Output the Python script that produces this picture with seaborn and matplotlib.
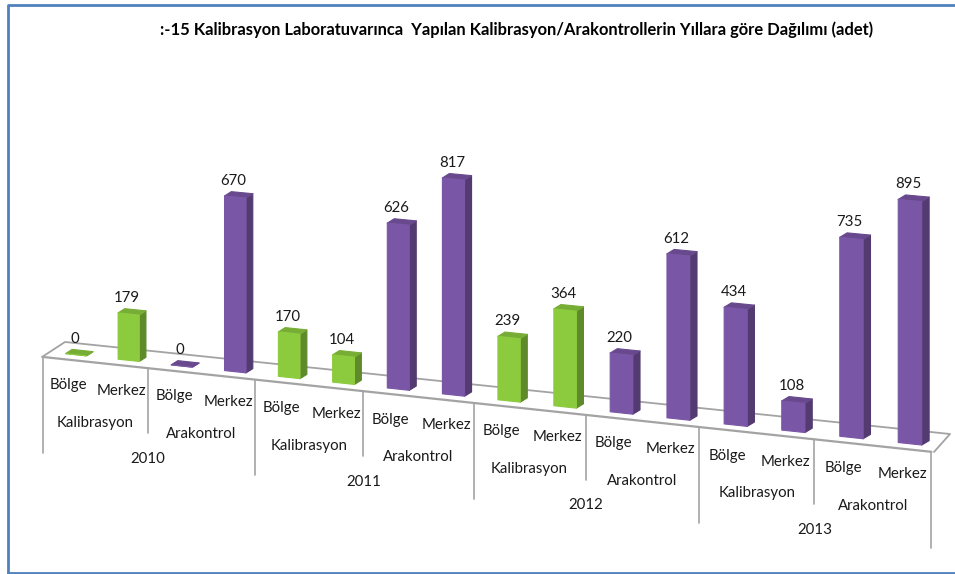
import numpy as np
import pandas as pd
import matplotlib
matplotlib.use("Agg")
import matplotlib.pyplot as plt
import seaborn as sns
from matplotlib.patches import Polygon
from matplotlib.transforms import Transform, Affine2D

# ── Data ──────────────────────────────────────────────────────────────────────
years = ["2010", "2011", "2012", "2013"]
kinds = ["Kalibrasyon", "Arakontrol"]
places = ["Bölge", "Merkez"]
values = [0, 179, 0, 670, 170, 104, 626, 817, 239, 364, 220, 612, 434, 108, 735, 895]
series = ["yesil", "yesil", "mor", "mor", "yesil", "yesil", "mor", "mor",
          "yesil", "yesil", "mor", "mor", "mor", "mor", "mor", "mor"]
title = ":-15 Kalibrasyon Laboratuvarınca  Yapılan Kalibrasyon/Arakontrollerin Yıllara göre Dağılımı (adet)"

rows = []
for y in years:
    for k in kinds:
        for p in places:
            rows.append((y, k, p))
df = pd.DataFrame(rows, columns=["yil", "tur", "yer"])
df["adet"] = values
df["seri"] = series
df["etiket"] = df["yil"] + " " + df["tur"] + " " + df["yer"]

GREEN = "#8ccb3e"
PURPLE = "#7a56a6"
GRAY = "#a3a3a3"
TEXT = "#1a1a1a"
W, H = 955, 574

sns.set_theme(style="white")
plt.rcParams["font.family"] = ["Lato", "DejaVu Sans"]


# ── Fake 3D floor: sheared, slightly stretched towards the viewer ─────────────
class Tilt(Transform):
    input_dims = 2
    output_dims = 2
    is_separable = False

    def transform_non_affine(self, xy):
        xy = np.asarray(xy, dtype=float)
        x, v = xy[:, 0], xy[:, 1]
        x2 = x + 0.00376 * x * (x - 15)
        v2 = np.where(v > 0, v * (0.985 + 0.0035 * x), v) - 22.66 * x2
        return np.column_stack([x2, v2])


fig, ax = plt.subplots(figsize=(W / 100, H / 100), dpi=100)
ax.set_position([0, 0, 1, 1])

sns.barplot(data=df, x="etiket", y="adet", hue="seri",
            palette={"yesil": GREEN, "mor": PURPLE},
            width=0.4, dodge=False, legend=False, saturation=1, ax=ax)

ax.set_xlim(-1.367, 15.81)
ax.set_ylim(-837, 1354)
ax.axis("off")

tilt = Tilt() + ax.transData
pixel = Affine2D().scale(1 / W, -1 / H).translate(0, 1) + ax.transAxes

# ── Frame and floor ───────────────────────────────────────────────────────────
ax.plot([8, 8, W], [573, 5, 5], color="#4f81bd", lw=2, transform=pixel, zorder=5, clip_on=False)
ax.plot([8, W], [573, 573], color="#4f81bd", lw=2, transform=pixel, zorder=5, clip_on=False)
ax.plot([42, 65, 950, 934], [357, 342, 434, 452], color=GRAY, lw=1.3, transform=pixel, zorder=1)

LABEL_DX = -0.135
ax.plot([-0.5 + LABEL_DX, 15.5 + LABEL_DX], [-22, -22], color=GRAY, lw=1.6, transform=tilt, zorder=1)
for i in range(17):
    pos = i - 0.5
    if i % 4 == 0:
        bottom = -388
    elif i % 2 == 0:
        bottom = -270
    else:
        continue
    ax.plot([pos + LABEL_DX] * 2, [-22, bottom], color=GRAY, lw=1.2, transform=tilt, zorder=1)

# ── Bars: seaborn front faces + side and top faces ────────────────────────────
DX, DV = 0.126, 19
for bar in list(ax.patches):
    x0, w, h = bar.get_x(), bar.get_width(), bar.get_height()
    rgb = np.array(bar.get_facecolor()[:3])
    bar.set_transform(tilt)
    bar.set_zorder(3)
    bar.set_edgecolor(rgb)
    bar.set_linewidth(0.8)
    bar.set_joinstyle("round")
    x1 = x0 + w
    side = [(x1, 0), (x1 + DX, DV), (x1 + DX, h + DV), (x1, h)]
    top = [(x0, h), (x1, h), (x1 + DX, h + DV), (x0 + DX, h + DV)]
    ax.add_patch(Polygon(side, closed=True, fc=rgb * 0.68, ec=rgb * 0.68, lw=0.8,
                         joinstyle="round", transform=tilt, zorder=2.9))
    ax.add_patch(Polygon(top, closed=True, fc=rgb * 0.85, ec=rgb * 0.85, lw=0.8,
                         joinstyle="round", transform=tilt, zorder=2.9))

# ── Labels ────────────────────────────────────────────────────────────────────
for i, row in df.iterrows():
    ax.text(i - 0.03, row["adet"] + 60, str(row["adet"]), ha="center", va="center",
            fontsize=10.8, color=TEXT, transform=tilt, zorder=4)
    ax.text(i + LABEL_DX, -119, row["yer"], ha="center", va="center",
            fontsize=10.8, color=TEXT, transform=tilt)

for i, row in df.iloc[::2].iterrows():
    ax.text(i + 0.5 + LABEL_DX, -252, row["tur"], ha="center", va="center",
            fontsize=10.8, color=TEXT, transform=tilt)

for n, y in enumerate(years):
    ax.text(4 * n + 1.5 + LABEL_DX, -367, y, ha="center", va="center",
            fontsize=10.8, color=TEXT, transform=tilt)

ax.text(516.5, 30, title, ha="center", va="center", fontsize=11.9, fontweight="bold",
        color="black", transform=pixel)

fig.savefig("out.png", dpi=100)
plt.close()
